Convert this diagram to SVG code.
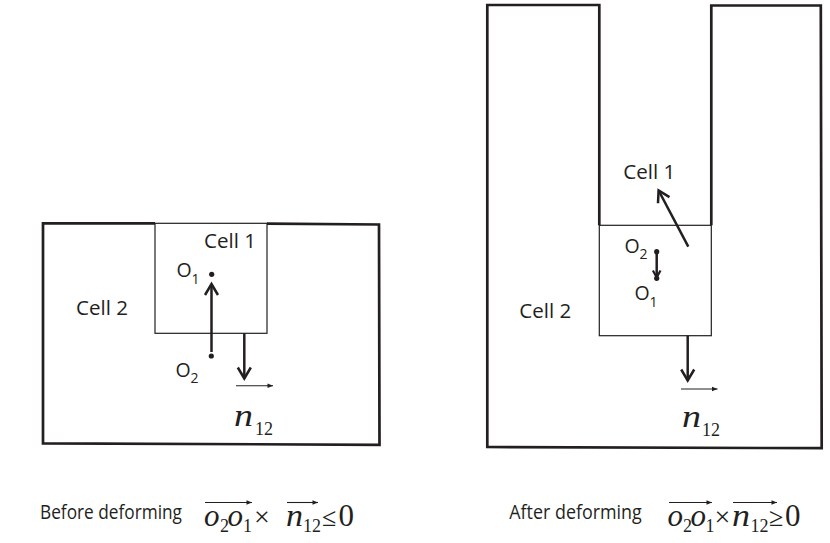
<svg xmlns="http://www.w3.org/2000/svg" width="830" height="543" viewBox="0 0 830 543">
<style>
.bg{fill:#fff}
.outer{fill:none;stroke:#231f20;stroke-width:2.7;stroke-linejoin:miter}
.inner{fill:none;stroke:#231f20;stroke-width:1.2}
.lbl{font-family:"Open Sans","Liberation Sans",sans-serif;font-size:19.5px;fill:#231f20}
.sub{font-family:"Open Sans","Liberation Sans",sans-serif;font-size:14px;fill:#231f20}
.mi{font-family:"Liberation Serif","Times New Roman",serif;font-style:italic;font-size:31px;fill:#231f20}
.mn{font-family:"Liberation Serif","Times New Roman",serif;font-size:18px;fill:#231f20}
.mo{font-family:"Liberation Serif","Times New Roman",serif;fill:#231f20}
.thick{fill:none;stroke:#231f20;stroke-width:2.5}
.thin{fill:none;stroke:#231f20;stroke-width:1.1}
.dot{fill:#231f20}
</style>
<defs>
<marker id="chev" viewBox="-14 -9 16 18" markerWidth="16" markerHeight="18" refX="0" refY="0" orient="auto" markerUnits="userSpaceOnUse" overflow="visible">
<path d="M-11,-6.5 L0,0 L-11,6.5" fill="none" stroke="#231f20" stroke-width="2.5"/>
</marker>
<marker id="chevS" viewBox="-10 -6 12 12" markerWidth="12" markerHeight="12" refX="0" refY="0" orient="auto" markerUnits="userSpaceOnUse" overflow="visible">
<path d="M-7,-3.8 L0,0 L-7,3.8" fill="none" stroke="#231f20" stroke-width="2.2"/>
</marker>
<marker id="tri" viewBox="-6 -3 7 6" markerWidth="7" markerHeight="6" refX="0" refY="0" orient="auto" markerUnits="userSpaceOnUse" overflow="visible">
<path d="M-5.5,-2.3 L0,0 L-5.5,2.3 Z" fill="#231f20"/>
</marker>
</defs>
<rect class="bg" width="830" height="543"/>

<!-- Left diagram: before deforming -->
<g id="left-cell2">
<path class="outer" d="M155,223.3 L43,223.3 L43,443.3 L379.5,444.8 L379,224.5 L267,223.6"/>
<text class="lbl" x="76" y="315" textLength="52" lengthAdjust="spacingAndGlyphs">Cell 2</text>
</g>
<g id="left-cell1">
<rect class="inner" x="155" y="223.3" width="112" height="110"/>
<text class="lbl" x="204" y="248" textLength="52" lengthAdjust="spacingAndGlyphs">Cell 1</text>
</g>
<g id="left-o1">
<circle class="dot" cx="211.7" cy="274.3" r="2.6"/>
<text class="lbl" x="176.5" y="277">O</text>
<text class="sub" x="191.5" y="283.5">1</text>
</g>
<g id="left-o2">
<circle class="dot" cx="211.3" cy="356" r="2.6"/>
<text class="lbl" x="175.5" y="376.5">O</text>
<text class="sub" x="190.5" y="382.5">2</text>
</g>
<g id="left-n12">
<text class="mi" x="234" y="426" textLength="19" lengthAdjust="spacingAndGlyphs">n</text>
<text class="mn" x="255" y="435">12</text>
</g>

<!-- Right diagram: after deforming -->
<g id="right-cell2">
<path class="outer" d="M599.3,225.3 L599.3,5 L487.3,5 L487.3,447 L821.7,448.2 L820.8,5.5 L711.3,5.5 L711.3,225.3"/>
<text class="lbl" x="519.3" y="318.3" textLength="52" lengthAdjust="spacingAndGlyphs">Cell 2</text>
</g>
<g id="right-cell1">
<rect class="inner" x="599.3" y="225.3" width="112" height="110.4"/>
<text class="lbl" x="623.3" y="179" textLength="52" lengthAdjust="spacingAndGlyphs">Cell 1</text>
</g>
<g id="right-o2">
<circle class="dot" cx="656.7" cy="251.7" r="2.6"/>
<text class="lbl" x="624.5" y="253.3">O</text>
<text class="sub" x="639.5" y="258.5">2</text>
</g>
<g id="right-o1">
<circle class="dot" cx="656.7" cy="278.3" r="2.6"/>
<text class="lbl" x="634.5" y="300">O</text>
<text class="sub" x="649.5" y="306.5">1</text>
</g>
<g id="right-n12">
<text class="mi" x="682" y="426.5" textLength="19" lengthAdjust="spacingAndGlyphs">n</text>
<text class="mn" x="702" y="436">12</text>
</g>

<!-- Connectors -->
<g id="connectors">
<line class="thick" x1="211.5" y1="352" x2="211.5" y2="284" marker-end="url(#chev)"/>
<line class="thick" x1="244.3" y1="333.3" x2="244.3" y2="378.5" marker-end="url(#chev)"/>
<line class="thin" x1="236" y1="385.7" x2="273" y2="385.7" marker-end="url(#tri)"/>
<line class="thick" x1="688.3" y1="246.7" x2="658.6" y2="190.5" marker-end="url(#chev)"/>
<line class="thick" x1="656.7" y1="254" x2="656.7" y2="277.5" marker-end="url(#chevS)"/>
<line class="thick" x1="687.7" y1="335.7" x2="687.7" y2="380.5" marker-end="url(#chev)"/>
<line class="thin" x1="681" y1="389" x2="717.5" y2="389" marker-end="url(#tri)"/>
</g>

<!-- Captions -->
<g id="caption-before">
<text class="lbl" x="40" y="519" textLength="142" lengthAdjust="spacingAndGlyphs">Before deforming</text>
<text class="mi" x="204" y="526">o</text>
<text class="mn" x="220" y="532">2</text>
<text class="mi" x="227.5" y="526">o</text>
<text class="mn" x="243" y="532">1</text>
<text class="mo" x="254" y="526" font-size="28">×</text>
<text class="mi" x="286" y="526" textLength="17" lengthAdjust="spacingAndGlyphs">n</text>
<text class="mn" x="303" y="532">12</text>
<text class="mo" x="322" y="526" font-size="26">≤</text>
<text class="mo" x="338.5" y="526" font-size="31">0</text>
<line class="thin" x1="205" y1="502.5" x2="252" y2="502.5" marker-end="url(#tri)"/>
<line class="thin" x1="287" y1="502.5" x2="318" y2="502.5" marker-end="url(#tri)"/>
</g>
<g id="caption-after">
<text class="lbl" x="509.3" y="519" textLength="132.5" lengthAdjust="spacingAndGlyphs">After deforming</text>
<text class="mi" x="667.5" y="526">o</text>
<text class="mn" x="683" y="532">2</text>
<text class="mi" x="690.5" y="526">o</text>
<text class="mn" x="705.5" y="532">1</text>
<text class="mo" x="714.5" y="526" font-size="28">×</text>
<text class="mi" x="732" y="526" textLength="18" lengthAdjust="spacingAndGlyphs">n</text>
<text class="mn" x="750.5" y="532">12</text>
<text class="mo" x="769" y="526" font-size="26">≥</text>
<text class="mo" x="785" y="526" font-size="31">0</text>
<line class="thin" x1="669" y1="502.5" x2="712" y2="502.5" marker-end="url(#tri)"/>
<line class="thin" x1="733" y1="502.5" x2="777" y2="502.5" marker-end="url(#tri)"/>
</g>
</svg>
